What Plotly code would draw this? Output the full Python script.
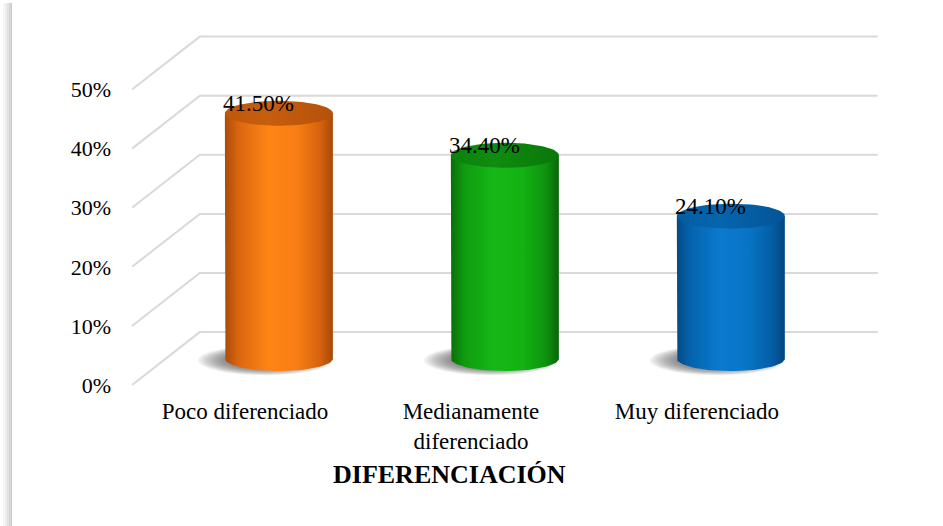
import numpy as np
import plotly.graph_objects as go

# Data
categories = ["Poco diferenciado", "Medianamente<br>diferenciado", "Muy diferenciado"]
values = [41.5, 34.4, 24.1]
value_labels = ["41.50%", "34.40%", "24.10%"]
y_ticks = [0, 10, 20, 30, 40, 50]

# Colours: body gradient (edge, bright, edge) and top cap colour per bar
body_scales = [
    [[0, "#A94B08"], [0.12, "#D9650F"], [0.4, "#FF8416"], [0.66, "#FA7E13"], [0.88, "#D66310"], [1, "#A64907"]],
    [[0, "#0A6E0A"], [0.12, "#0F9A0F"], [0.4, "#16B816"], [0.66, "#13B213"], [0.88, "#0E930E"], [1, "#086508"]],
    [[0, "#034A86"], [0.12, "#0562AC"], [0.4, "#0A7ACF"], [0.66, "#0874C6"], [0.88, "#045EA6"], [1, "#02457D"]],
]
top_scales = [
    [[0, "#BF570B"], [0.4, "#C75E0E"], [1, "#B4510A"]],
    [[0, "#0B810B"], [0.4, "#0F8C0F"], [1, "#097709"]],
    [[0, "#045CA0"], [0.4, "#0665AE"], [1, "#035497"]],
]

# 3-D box geometry in axis units (front-plane coordinates)
DEPTH_X = 0.30      # horizontal offset from front to back wall
DEPTH_Y = 8.95      # vertical offset from front to back wall (percent units)
X_LEFT, X_RIGHT = -0.5, 2.5
RX = 0.239          # cylinder horizontal radius
RY = 2.115          # cylinder ellipse vertical radius

SERIF = "Liberation Serif, Times New Roman, serif"

fig = go.Figure()

# Gridlines: back wall and left side wall
grid_style = dict(color="#D9D9D9", width=2)
for v in y_ticks:
    fig.add_trace(go.Scatter(
        x=[X_LEFT, X_LEFT + DEPTH_X, X_RIGHT + DEPTH_X],
        y=[v, v + DEPTH_Y, v + DEPTH_Y],
        mode="lines", line=grid_style, hoverinfo="skip", showlegend=False))

t = np.linspace(0, 2 * np.pi, 90)
t_half = np.linspace(np.pi, 2 * np.pi, 45)

for i, val in enumerate(values):
    xc = i + DEPTH_X / 2
    yb = DEPTH_Y / 2
    yt = yb + val

    # soft floor shadow built from stacked translucent ellipses
    for k in range(10):
        s = 1.0 - k * 0.04
        fig.add_trace(go.Scatter(
            x=xc - 0.06 + RX * 1.25 * s * np.cos(t),
            y=yb - 0.3 + RY * 1.2 * s * np.sin(t),
            mode="lines", line=dict(width=0), fill="toself",
            fillcolor="rgba(60,60,60,0.07)", hoverinfo="skip", showlegend=False))

    # cylinder body
    bx = np.concatenate([[xc - RX], xc + RX * np.cos(t_half), [xc + RX, xc - RX]])
    by = np.concatenate([[yt], yb + RY * np.sin(t_half), [yt, yt]])
    fig.add_trace(go.Scatter(
        x=bx, y=by, mode="lines", line=dict(width=0), fill="toself",
        fillgradient=dict(type="horizontal", colorscale=body_scales[i]),
        hoverinfo="skip", showlegend=False))

    # top cap
    fig.add_trace(go.Scatter(
        x=xc + RX * np.cos(t), y=yt + RY * np.sin(t),
        mode="lines", line=dict(width=0), fill="toself",
        fillgradient=dict(type="horizontal", colorscale=top_scales[i]),
        hoverinfo="skip", showlegend=False))

    # value label
    fig.add_annotation(
        x=xc, y=yt, text=value_labels[i], showarrow=False,
        xshift=-20, yshift=10,
        font=dict(family=SERIF, size=23, color="#000000"))

# Axis title
fig.add_annotation(
    x=0.907, y=-0.236, xref="x", yref="paper", yanchor="middle",
    text="<b>DIFERENCIACIÓN</b>", showarrow=False,
    font=dict(family=SERIF, size=26, color="#000000"))

# Left frame shadow
for k, col in enumerate(["#F6F6F6", "#EDEDED", "#E2E2E2", "#D6D6D6", "#CACACA"]):
    fig.add_shape(type="rect", xref="paper", yref="paper",
                  x0=(3 + 2 * k - 132) / 757, x1=(12 - 132) / 757,
                  y0=-0.378, y1=1.075, line=dict(width=0), fillcolor=col, layer="below")

fig.update_layout(
    width=943, height=526,
    margin=dict(l=132, r=54, t=30, b=136),
    paper_bgcolor="white", plot_bgcolor="white",
    font=dict(family=SERIF, color="#000000"),
    xaxis=dict(range=[-0.5, 2.85], tickvals=[0, 1, 2], ticktext=categories,
               showgrid=False, zeroline=False, showline=False, ticks="",
               ticklabelstandoff=5, tickfont=dict(size=23), fixedrange=True),
    yaxis=dict(range=[-0.846, 60.07], tickvals=y_ticks,
               ticktext=[f"{v}%" for v in y_ticks],
               showgrid=False, zeroline=False, showline=False, ticks="",
               ticklabelstandoff=20, tickfont=dict(size=22), fixedrange=True),
)

fig.write_html("out.html")
